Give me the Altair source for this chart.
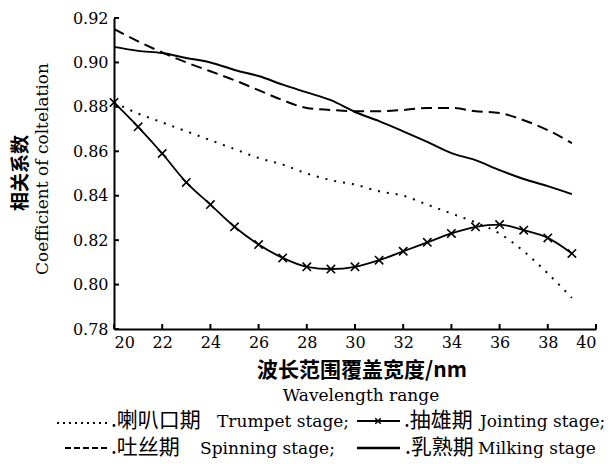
import altair as alt
import pandas as pd

# ---------------- data ----------------
wavelength = list(range(20, 40))
trumpet = [0.882, 0.877, 0.873, 0.869, 0.865, 0.861, 0.857, 0.854, 0.850, 0.847,
           0.845, 0.842, 0.840, 0.836, 0.832, 0.828, 0.823, 0.815, 0.805, 0.794]
jointing = [0.882, 0.871, 0.859, 0.846, 0.836, 0.826, 0.818, 0.812, 0.808, 0.807,
            0.808, 0.811, 0.815, 0.819, 0.823, 0.826, 0.827, 0.8245, 0.821, 0.814]
spinning = [0.915, 0.9095, 0.9045, 0.900, 0.896, 0.892, 0.8875, 0.883, 0.8795, 0.8786,
            0.878, 0.878, 0.8786, 0.8795, 0.8795, 0.878, 0.8772, 0.874, 0.8695, 0.8637]
milking = [0.907, 0.9052, 0.9042, 0.902, 0.900, 0.8966, 0.8939, 0.890, 0.8865, 0.883,
           0.8777, 0.8736, 0.869, 0.8642, 0.8592, 0.856, 0.8515, 0.8475, 0.8443, 0.8407]
x_ticks = [20, 22, 24, 26, 28, 30, 32, 34, 36, 38, 40]
y_ticks = [0.78, 0.80, 0.82, 0.84, 0.86, 0.88, 0.90, 0.92]

stage_cn = [".喇叭口期", ".抽雄期", ".吐丝期", ".乳熟期"]
stage_en = ["Trumpet stage;", "Jointing stage;", "Spinning stage;", "Milking stage"]
y_title = ["相关系数", "Coefficient of coltelation"]
x_title = ["波长范围覆盖宽度/nm", "Wavelength range"]

df = pd.DataFrame({"w": wavelength, "trumpet": trumpet, "jointing": jointing,
                   "spinning": spinning, "milking": milking})

W, H = 482, 311
WSERIF = "'DejaVu Serif', 'Liberation Serif', serif"
CJK = "'Noto Sans CJK SC', sans-serif"

xs = alt.Scale(domain=[20, 40], nice=False, zero=False)
ys = alt.Scale(domain=[0.78, 0.92], nice=False, zero=False)
x_axis = alt.Axis(values=x_ticks, format="d", title=None, grid=False, ticks=False,
                  domainColor="black", domainWidth=2, labelFont=WSERIF, labelFontSize=16,
                  labelColor="black", labelPadding=5)
y_axis = alt.Axis(values=y_ticks, format=".2f", title=None, grid=False, ticks=False,
                  domainColor="black", domainWidth=2, labelFont=WSERIF, labelFontSize=16,
                  labelColor="black", labelPadding=6)

X = alt.X("w:Q", scale=xs, axis=x_axis)
base = alt.Chart(df)

l_trumpet = base.mark_line(color="black", strokeWidth=2, strokeDash=[2, 7],
                           interpolate="monotone").encode(
    x=X, y=alt.Y("trumpet:Q", scale=ys, axis=y_axis))
l_spinning = base.mark_line(color="black", strokeWidth=2, strokeDash=[11, 6],
                            interpolate="monotone").encode(
    x=X, y=alt.Y("spinning:Q", scale=ys, axis=y_axis))
l_milking = base.mark_line(color="black", strokeWidth=2,
                           interpolate="monotone").encode(
    x=X, y=alt.Y("milking:Q", scale=ys, axis=y_axis))
l_jointing = base.mark_line(color="black", strokeWidth=1.8,
                            interpolate="monotone").encode(
    x=X, y=alt.Y("jointing:Q", scale=ys, axis=y_axis))
XSHAPE = "M-1,-1L1,1M-1,1L1,-1"
p_jointing = base.mark_point(shape=XSHAPE, size=70, filled=False, color="black",
                             strokeWidth=1.6, opacity=1).encode(
    x=X, y=alt.Y("jointing:Q", scale=ys, axis=y_axis))

# inward tick marks
xt = alt.Chart(pd.DataFrame({"t": x_ticks})).mark_rule(color="black", strokeWidth=2).encode(
    x=alt.X("t:Q", scale=xs, axis=x_axis), y=alt.value(H), y2=alt.value(H - 5))
yt = alt.Chart(pd.DataFrame({"v": y_ticks})).mark_rule(color="black", strokeWidth=2).encode(
    y=alt.Y("v:Q", scale=ys, axis=y_axis), x=alt.value(0), x2=alt.value(5))

one = pd.DataFrame({"a": [0]})


def txt(s, x, y, font, size, weight="normal", align="left", angle=0):
    kw = dict(font=font, fontSize=size, fontWeight=weight, align=align,
              baseline="middle", color="black")
    if angle:
        kw["angle"] = angle
    return alt.Chart(one).mark_text(**kw).encode(
        x=alt.value(x), y=alt.value(y), text=alt.value(s))


def seg(x1, x2, y, dash=None, width=2):
    kw = dict(color="black", strokeWidth=width)
    if dash:
        kw["strokeDash"] = dash
    return alt.Chart(one).mark_rule(**kw).encode(
        x=alt.value(x1), x2=alt.value(x2), y=alt.value(y))


texts = [
    txt(y_title[0], -93, 155, CJK, 19, "bold", "center", 270),
    txt(y_title[1], -71, 151, WSERIF, 17, "normal", "center", 270),
    txt(x_title[0], 248, 353, "'Noto Sans CJK SC', 'DejaVu Serif'", 21, "bold", "center"),
    txt(x_title[1], 247, 378, WSERIF, 17, "normal", "center"),
    # legend row 1
    seg(-57, -6, 405, [2, 4]),
    txt(stage_cn[0], -3, 403, CJK, 21),
    txt(stage_en[0], 103, 404, WSERIF, 17),
    seg(243, 286, 403, None, 2),
    txt(stage_cn[1], 290, 403, CJK, 21),
    txt(stage_en[1], 366, 404, WSERIF, 17),
    # legend row 2
    seg(-49, -4, 430, [6, 3]),
    txt(stage_cn[2], -3, 430, CJK, 21),
    txt(stage_en[2], 86, 431, WSERIF, 17),
    seg(243, 286, 430, None, 2.5),
    txt(stage_cn[3], 291, 430, CJK, 21),
    txt(stage_en[3], 364, 431, WSERIF, 17),
]
leg_marker = alt.Chart(one).mark_point(shape=XSHAPE, size=30, filled=False, color="black",
                                       strokeWidth=1.5, opacity=1).encode(
    x=alt.value(264), y=alt.value(403))

chart = alt.layer(l_trumpet, l_spinning, l_milking, l_jointing, p_jointing, xt, yt,
                  *texts, leg_marker).properties(
    width=W, height=H,
    autosize=alt.AutoSizeParams(type="none"),
    padding={"left": 114, "top": 18, "right": 18, "bottom": 135},
    background="white",
).configure_view(stroke=None)

chart.save("out.html", embed_options={"renderer": "svg", "actions": False})
